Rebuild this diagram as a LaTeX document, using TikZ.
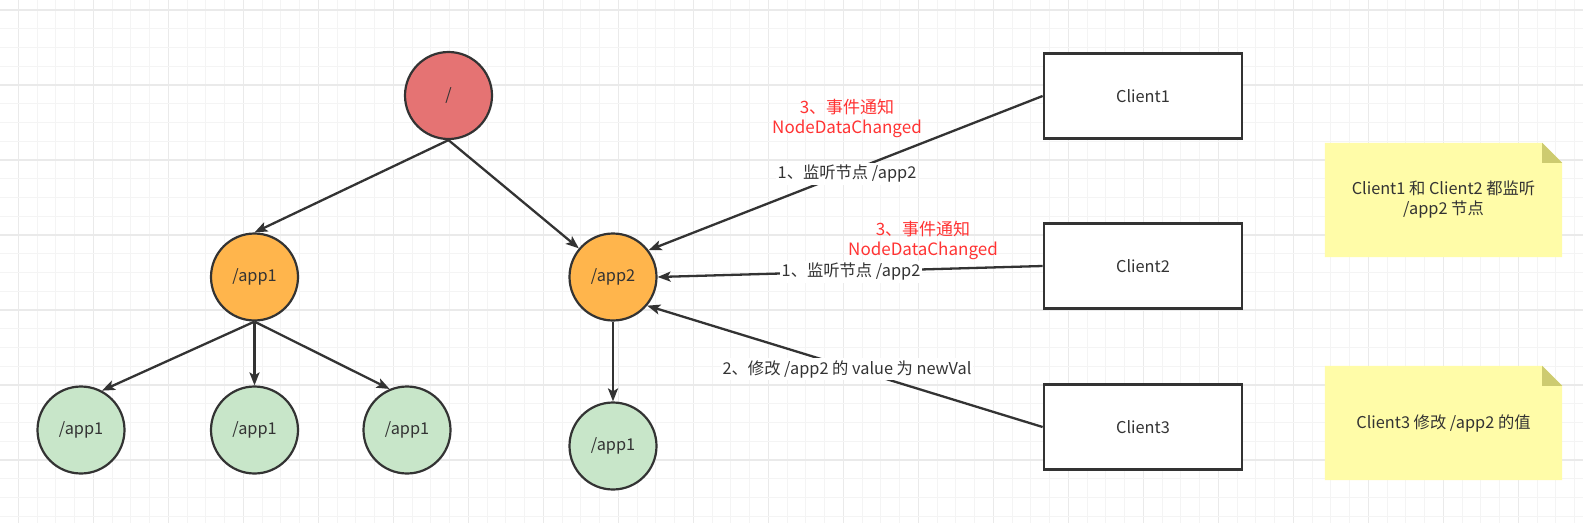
\documentclass[tikz,border=0pt]{standalone}
\usepackage{fontspec}
\setmainfont{Noto Sans CJK SC}
\usetikzlibrary{arrows.meta,calc}
\definecolor{ink}{HTML}{333333}
\definecolor{rootred}{HTML}{E57373}
\definecolor{orangec}{HTML}{FFB54C}
\definecolor{greenc}{HTML}{C8E6C9}
\definecolor{redtxt}{HTML}{FF3333}
\definecolor{notey}{HTML}{FFFCA8}
\definecolor{notefold}{HTML}{CDCB70}
\definecolor{gridminor}{HTML}{F4F4F4}
\definecolor{gridmajor}{HTML}{EAEAEA}
\tikzset{
  circ/.style={circle, draw=ink, line width=2.2pt, minimum size=87pt, inner sep=0pt, text=ink},
  rootc/.style={circ, fill=rootred},
  midc/.style={circ, fill=orangec},
  leafc/.style={circ, fill=greenc},
  client/.style={rectangle, draw=ink, line width=2.8pt, minimum width=198pt, minimum height=85pt, fill=white, text=ink},
  arr/.style={draw=ink, line width=2.3pt, -{Stealth[length=13pt,width=10pt,inset=3pt]}},
  lab/.style={fill=white, inner sep=2pt, text=ink},
  redlab/.style={text=redtxt, align=center, inner sep=0pt, font=\fontsize{17}{20}\selectfont},
  notebox/.style={minimum width=237pt, minimum height=114pt, inner sep=0pt},
  notetext/.style={text=ink, align=center},
  gminor/.style={draw=gridminor, line width=1pt},
  gmajor/.style={draw=gridmajor, line width=1.2pt}
}
\begin{document}
\begin{tikzpicture}[x=1pt, y=-1pt, font=\fontsize{16.3}{20}\selectfont]
\useasboundingbox (0,0) rectangle (1583,523);
\fill[white] (0,0) rectangle (1583,523);
% grid
\foreach \i in {0,...,85} {
  \pgfmathtruncatemacro{\m}{mod(\i,4)}
  \ifnum\m=1
    \draw[gmajor] ({-0.45+18.75*\i},0) -- ({-0.45+18.75*\i},523);
  \else
    \draw[gminor] ({-0.45+18.75*\i},0) -- ({-0.45+18.75*\i},523);
  \fi
}
\foreach \j in {0,...,28} {
  \pgfmathtruncatemacro{\m}{mod(\j,4)}
  \ifnum\m=1
    \draw[gmajor] (0,{-8.75+18.75*\j}) -- (1583,{-8.75+18.75*\j});
  \else
    \draw[gminor] (0,{-8.75+18.75*\j}) -- (1583,{-8.75+18.75*\j});
  \fi
}
% tree nodes
\node[rootc] (root) at (448.5,95.5) {/};
\node[midc] (a1) at (254.5,277) {/app1};
\node[midc] (a2) at (613,277) {/app2};
\node[leafc] (l1) at (81,430) {/app1};
\node[leafc] (l2) at (254.5,430) {/app1};
\node[leafc] (l3) at (407,430) {/app1};
\node[leafc] (l4) at (613,446) {/app1};
% clients
\node[client] (c1) at (1143,96) {Client1};
\node[client] (c2) at (1143,266) {Client2};
\node[client] (c3) at (1143,427) {Client3};
% tree edges
\draw[arr] (root.south) -- (a1.north);
\draw[arr] (root.south) -- (a2.140);
\draw[arr] (a1.south) -- (l1.62);
\draw[arr] (a1.south) -- (l2.north);
\draw[arr] (a1.south) -- (l3.113);
\draw[arr] (a2.south) -- (l4.north);
% client edges
\draw[arr] (c1.west) -- (a2.37);
\draw[arr] (c2.west) -- (a2.east);
\draw[arr] (c3.west) -- (a2.-40);
% labels
\node[lab] (lb1) at (847,174) {1、监听节点 /app2};
\node[lab] (lb2) at (851,272) {1、监听节点 /app2};
\node[lab] (lb3) at (847,369) {2、修改 /app2 的 value 为 newVal};
\node[redlab] (r1) at (847,118) {3、事件通知\\NodeDataChanged};
\node[redlab] (r2) at (923,240) {3、事件通知\\NodeDataChanged};
% notes
\node[notebox] (n1) at (1443.5,200) {};
\node[notebox] (n2) at (1443.5,423) {};
\foreach \n in {n1,n2} {
  \fill[notey] (\n.north west) -- ($(\n.north east)+(-20,0)$) -- ($(\n.north east)+(0,20)$) -- (\n.south east) -- (\n.south west) -- cycle;
  \fill[notefold] ($(\n.north east)+(-20,0)$) -- ($(\n.north east)+(-20,20)$) -- ($(\n.north east)+(0,20)$) -- cycle;
}
\node[notetext] (n1t) at (n1.center) {Client1 和 Client2 都监听\\/app2 节点};
\node[notetext] (n2t) at (n2.center) {Client3 修改 /app2 的值};
\end{tikzpicture}
\end{document}
